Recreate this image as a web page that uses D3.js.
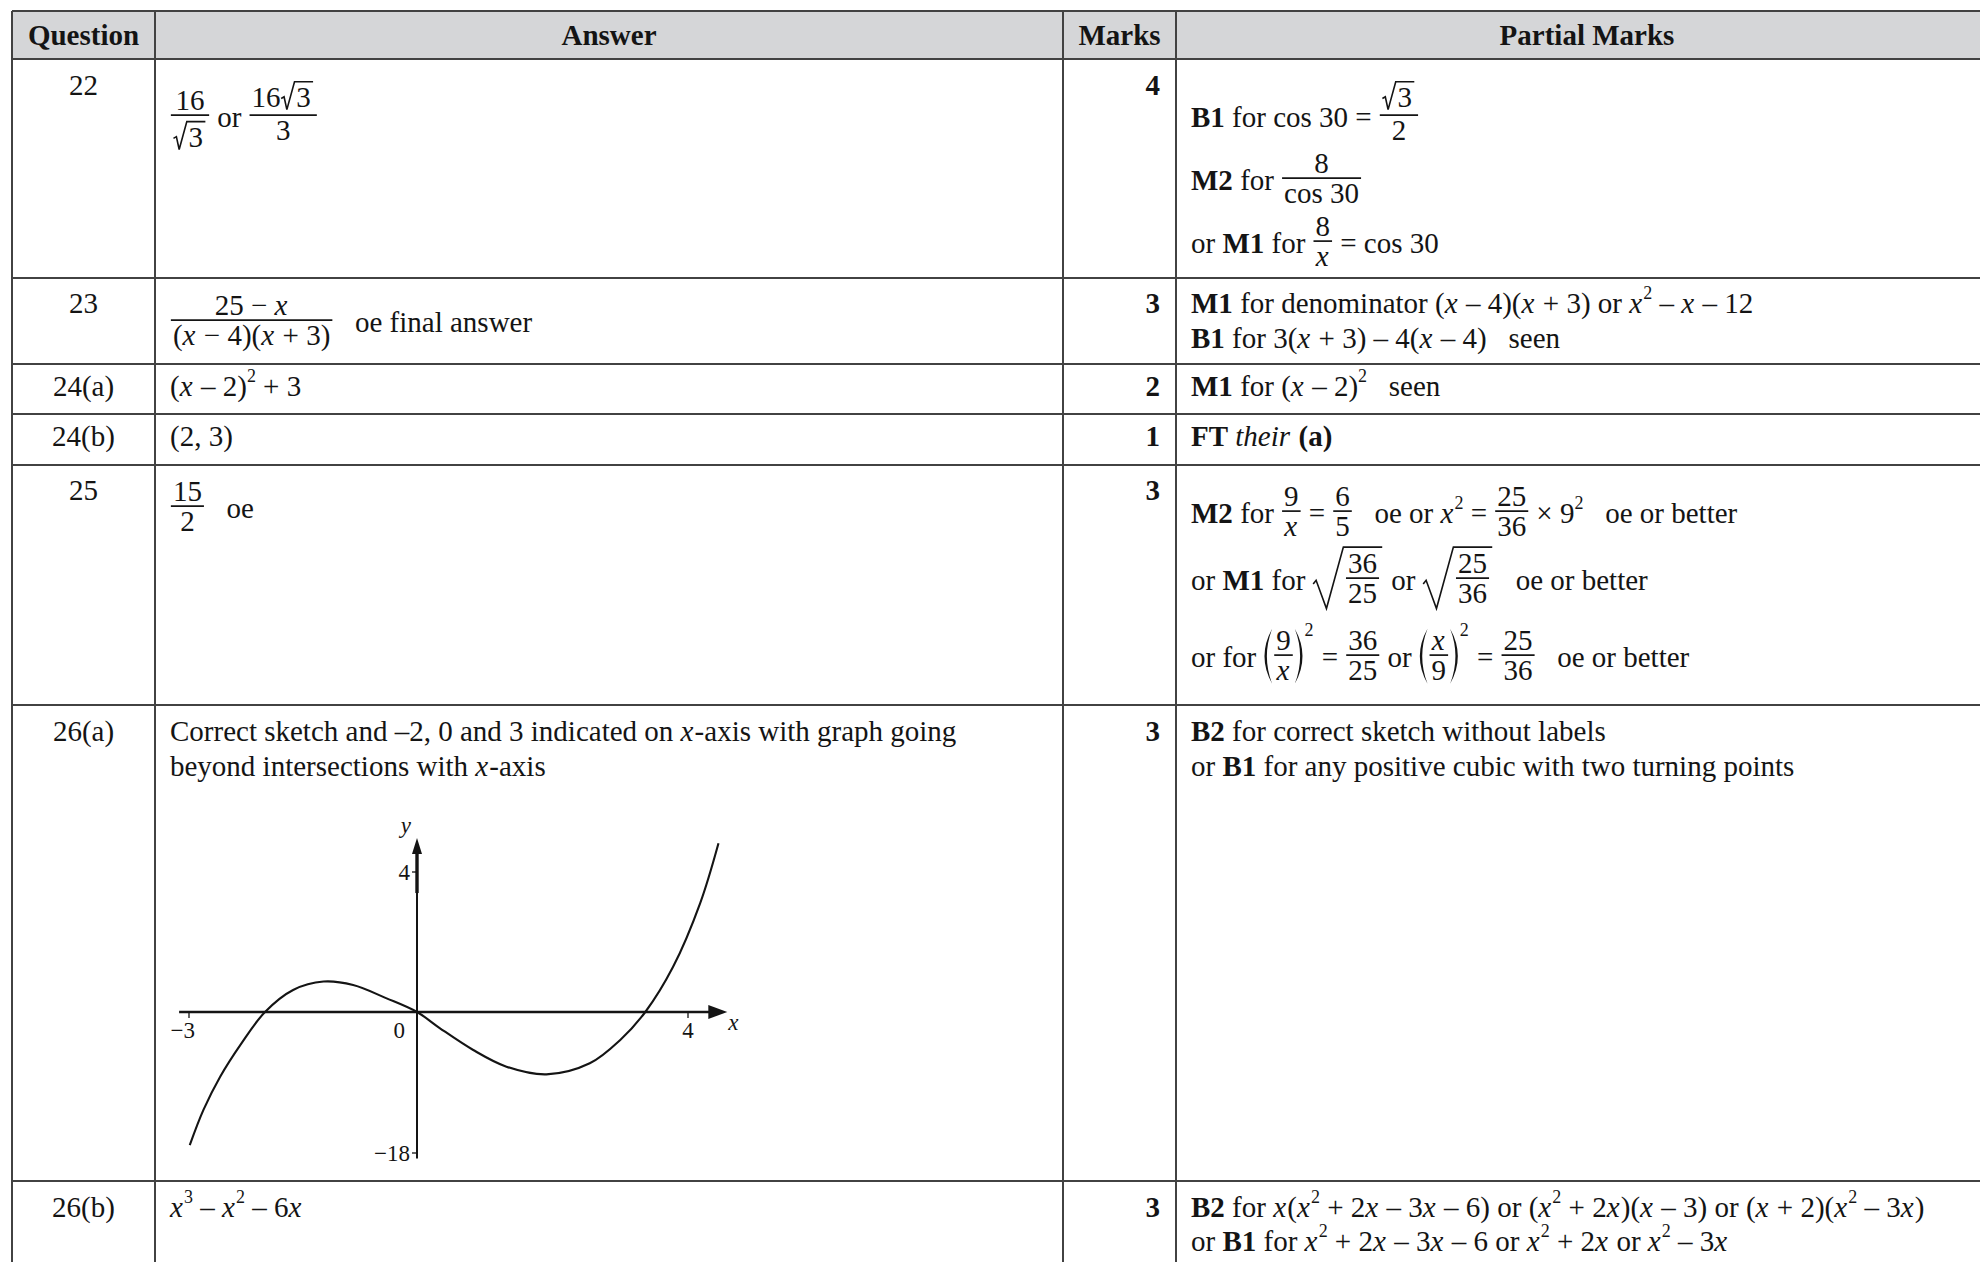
<!DOCTYPE html>
<html>
<head>
<meta charset="utf-8">
<script src="https://cdn.jsdelivr.net/npm/d3@7"></script>
<style>
body { margin: 0; background: #fff; }
text { font-family: "Liberation Serif", "Times New Roman", serif; fill: #141414; white-space: pre; }
</style>
</head>
<body>
<script>
// ---- table content ----
var headers = ["Question", "Answer", "Marks", "Partial Marks"];
var questions = ["22", "23", "24(a)", "24(b)", "25", "26(a)", "26(b)"];
var marks = ["4", "3", "2", "1", "3", "3", "3"];

var answers = [
  [[{frac: ["16", [{sqrt: ["3"]}]]}, " or ", {frac: [["16", {sqrt: ["3"]}], "3"]}]],
  [[{frac: ["25 − _x_", "(_x_ − 4)(_x_ + 3)"]}, "   oe final answer"]],
  [["(_x_ – 2)^2^ + 3"]],
  [["(2, 3)"]],
  [[{frac: ["15", "2"]}, "   oe"]],
  [["Correct sketch and –2, 0 and 3 indicated on _x_-axis with graph going"],
   ["beyond intersections with _x_-axis"]],
  [["_x_^3^ – _x_^2^ – 6_x_"]]
];

var partials = [
  [["*B1* for cos 30 = ", {frac: [[{sqrt: ["3"]}], "2"]}],
   ["*M2* for ", {frac: ["8", "cos 30"]}],
   ["or *M1* for ", {frac: ["8", "_x_"]}, " = cos 30"]],
  [["*M1* for denominator (_x_ – 4)(_x_ + 3) or _x_^2^ – _x_ – 12"],
   ["*B1* for 3(_x_ + 3) – 4(_x_ – 4)   seen"]],
  [["*M1* for (_x_ – 2)^2^   seen"]],
  [["*FT* _their_ *(a)*"]],
  [["*M2* for ", {frac: ["9", "_x_"]}, " = ", {frac: ["6", "5"]}, "   oe or _x_^2^ = ", {frac: ["25", "36"]}, " × 9^2^   oe or better"],
   ["or *M1* for ", {sqrt: [{frac: ["36", "25"]}]}, " or ", {sqrt: [{frac: ["25", "36"]}]}, "   oe or better"],
   ["or for ", {paren: [{frac: ["9", "_x_"]}], sup: "2"}, " = ", {frac: ["36", "25"]}, " or ",
    {paren: [{frac: ["_x_", "9"]}], sup: "2"}, " = ", {frac: ["25", "36"]}, "   oe or better"]],
  [["*B2* for correct sketch without labels"],
   ["or *B1* for any positive cubic with two turning points"]],
  [["*B2* for _x_(_x_^2^ + 2_x_ – 3_x_ – 6) or (_x_^2^ + 2_x_)(_x_ – 3) or (_x_ + 2)(_x_^2^ – 3_x_)"],
   ["or *B1* for _x_^2^ + 2_x_ – 3_x_ – 6 or _x_^2^ + 2_x_ or _x_^2^ – 3_x_"]]
];

// ---- sketch of the cubic (sketch units) ----
var curveX = [-2.99, -2.81, -2.59, -2.31, -2.0, -1.63, -1.23, -0.84, -0.40, 0, 0.34, 0.83, 1.32, 1.91, 2.55, 3.0, 3.37, 3.78, 4.18, 4.45];
var curveY = [-17.0, -12.5, -8.26, -4.0, 0, 0.63, 0.87, 0.77, 0.39, 0, -2.08, -4.85, -6.98, -7.96, -6.55, -3.57, 0, 1.29, 3.11, 4.82];
var xTicks = [-3, 4];
var yTicks = [4, -18];
var xAxisRange = [-3.13, 4.58];
var yAxisRange = [-18.7, 4.97];

// ---- layout ----
var W = 1980, H = 1262;
var FS = 29;
var colX = [12, 155, 1063, 1176, 1998];
var rowY = [11, 59, 278, 364, 414, 465, 705, 1181, 1300];
var headBase = 45;
var qBase = [95, 313, 396, 446, 500, 741, 1217];
var answerY = [[127], [332], [396], [446], [518], [741, 776], [1217]];
var partialY = [[127, 190, 253], [313, 348], [396], [446], [523, 590, 667], [741, 776], [1217, 1251]];
var ink = "#141414";

var svg = d3.select("body").append("svg")
  .attr("width", W)
  .attr("height", H);

// header background
svg.append("rect")
  .attr("x", colX[0]).attr("y", rowY[0])
  .attr("width", colX[4] - colX[0]).attr("height", rowY[1] - rowY[0])
  .attr("fill", "#d5d6d8");

function parseRuns(str) {
  return str.split(/(\*[^*]+\*|_[^_]+_|\^[^^]+\^)/).filter(function(p) { return p.length; })
    .map(function(p) {
      if (p.length > 2 && p[0] == "*" && p[p.length - 1] == "*") return {t: p.slice(1, -1), b: true};
      if (p.length > 2 && p[0] == "_" && p[p.length - 1] == "_") return {t: p.slice(1, -1), i: true};
      if (p.length > 2 && p[0] == "^" && p[p.length - 1] == "^") return {t: p.slice(1, -1), sup: true};
      return {t: p};
    });
}

function drawText(g, str, x0, size) {
  var x = x0, top = -0.68 * size;
  parseRuns(str).forEach(function(r) {
    var fs = r.sup ? size * 0.62 : size;
    var y = r.sup ? -0.5 * size : 0;
    var t = g.append("text")
      .attr("x", x).attr("y", y)
      .attr("font-size", fs)
      .attr("xml:space", "preserve")
      .attr("font-weight", r.b ? "bold" : null)
      .attr("font-style", r.i ? "italic" : null)
      .text(r.t);
    x += t.node().getComputedTextLength() + (r.i ? 0.04 * size : 0);
    if (r.sup) top = Math.min(top, y - 0.68 * fs);
  });
  return {w: x - x0, top: top, bot: 0};
}

function drawFrac(g, it, x, size) {
  var gn = g.append("g"), gd = g.append("g");
  var mn = layout(gn, it.frac[0], size), md = layout(gd, it.frac[1], size);
  var pad = 0.1 * size;
  var w = Math.max(mn.w, md.w) + 2 * pad;
  var bar = -0.41 * size;
  var gap = 0.19 * size;
  var nb = bar - gap - mn.bot;
  var db = bar + gap - md.top;
  gn.attr("transform", "translate(" + (x + (w - mn.w) / 2) + "," + nb + ")");
  gd.attr("transform", "translate(" + (x + (w - md.w) / 2) + "," + db + ")");
  g.append("line")
    .attr("x1", x + pad * 0.3).attr("x2", x + w - pad * 0.3)
    .attr("y1", bar).attr("y2", bar)
    .attr("stroke", ink).attr("stroke-width", 1.7);
  return {w: w, top: nb + mn.top, bot: db + md.bot + 0.1 * size};
}

function drawSqrt(g, it, x, size) {
  var gc = g.append("g");
  var m = layout(gc, it.sqrt, size);
  var yt = m.top - 0.2 * size, yb = m.bot + 0.08 * size;
  var h = yb - yt;
  var rw = 0.5 * h;
  gc.attr("transform", "translate(" + (x + rw + 0.06 * size) + ",0)");
  var pts = [[x + 0.02 * size, yb - 0.4 * h], [x + 0.12 * size, yb - 0.46 * h],
             [x + rw * 0.45, yb], [x + rw, yt], [x + rw + 0.14 * size + m.w, yt]];
  g.append("path")
    .attr("d", d3.line()(pts))
    .attr("fill", "none").attr("stroke", ink)
    .attr("stroke-width", 1.6).attr("stroke-linejoin", "miter");
  return {w: rw + 0.2 * size + m.w, top: yt - 1, bot: yb};
}

function parenPath(x0, x1, t, b, th) {
  // x0: outer (bulge) side, x1: tip side
  var mid = (t + b) / 2;
  var dir = x1 > x0 ? 1 : -1;
  var c = x0 - dir * (Math.abs(x1 - x0) * 0.9);
  return "M" + x1 + "," + t + "Q" + c + "," + mid + " " + x1 + "," + b +
         "Q" + (c + dir * th * 2) + "," + mid + " " + x1 + "," + t + "Z";
}

function drawParen(g, it, x, size) {
  var gc = g.append("g");
  var m = layout(gc, it.paren, size);
  var t = m.top - 0.04 * size, b = m.bot + 0.02 * size;
  var pw = 0.3 * size;
  gc.attr("transform", "translate(" + (x + pw + 0.04 * size) + ",0)");
  g.append("path").attr("d", parenPath(x + 0.02 * size, x + pw, t, b, 2.4)).attr("fill", ink);
  var xr = x + pw + 0.08 * size + m.w;
  g.append("path").attr("d", parenPath(xr + pw - 0.02 * size, xr, t, b, 2.4)).attr("fill", ink);
  var w = xr + pw - x;
  if (it.sup) {
    var s = g.append("text")
      .attr("x", x + w + 1).attr("y", t + 0.25 * size)
      .attr("font-size", size * 0.62).text(it.sup);
    w += s.node().getComputedTextLength() + 2;
  }
  return {w: w, top: t, bot: b};
}

function layout(g, items, size) {
  if (typeof items == "string") items = [items];
  var x = 0, top = 0, bot = 0;
  items.forEach(function(it) {
    var m;
    if (typeof it == "string") m = drawText(g, it, x, size);
    else if (it.frac) m = drawFrac(g, it, x, size);
    else if (it.sqrt) m = drawSqrt(g, it, x, size);
    else m = drawParen(g, it, x, size);
    x += m.w;
    top = Math.min(top, m.top);
    bot = Math.max(bot, m.bot);
  });
  return {w: x, top: top, bot: bot};
}

function placeLine(items, x, y) {
  var g = svg.append("g").attr("transform", "translate(" + x + "," + y + ")");
  return layout(g, items, FS);
}

// header texts
headers.forEach(function(h, i) {
  svg.append("text")
    .attr("x", (colX[i] + colX[i + 1]) / 2)
    .attr("y", headBase)
    .attr("text-anchor", "middle")
    .attr("font-size", FS)
    .attr("font-weight", "bold")
    .text(h);
});

// rows
questions.forEach(function(q, i) {
  svg.append("text")
    .attr("x", (colX[0] + colX[1]) / 2)
    .attr("y", qBase[i])
    .attr("text-anchor", "middle")
    .attr("font-size", FS)
    .text(q);
  svg.append("text")
    .attr("x", colX[3] - 16)
    .attr("y", qBase[i])
    .attr("text-anchor", "end")
    .attr("font-size", FS)
    .attr("font-weight", "bold")
    .text(marks[i]);
  answers[i].forEach(function(line, j) {
    placeLine(line, colX[1] + 15, answerY[i][j]);
  });
  partials[i].forEach(function(line, j) {
    placeLine(line, colX[3] + 15, partialY[i][j]);
  });
});

// grid lines
var grid = svg.append("g").attr("stroke", "#424242").attr("stroke-width", 2);
rowY.slice(0, 8).forEach(function(y) {
  grid.append("line").attr("x1", colX[0]).attr("x2", W).attr("y1", y).attr("y2", y);
});
colX.slice(0, 4).forEach(function(x) {
  grid.append("line").attr("x1", x).attr("x2", x).attr("y1", rowY[0]).attr("y2", H);
});

// ---- cubic sketch ----
var xS = d3.scaleLinear().domain([-3, 0, 4]).range([189, 417, 688]);
var yS = d3.scaleLinear().domain([-18, 0, 4]).range([1153, 1012, 872]);
var sk = svg.append("g");
var lab = 23;

// x axis with arrow
sk.append("line")
  .attr("x1", xS(xAxisRange[0])).attr("x2", xS(xAxisRange[1]) - 10)
  .attr("y1", yS(0)).attr("y2", yS(0))
  .attr("stroke", ink).attr("stroke-width", 2.6);
sk.append("path")
  .attr("d", d3.line()([[xS(xAxisRange[1]), yS(0)], [xS(xAxisRange[1]) - 19, yS(0) - 7], [xS(xAxisRange[1]) - 19, yS(0) + 7]]) + "Z")
  .attr("fill", ink);

// y axis with arrow
sk.append("line")
  .attr("x1", xS(0)).attr("x2", xS(0))
  .attr("y1", yS(yAxisRange[0])).attr("y2", yS(yAxisRange[1]) + 12)
  .attr("stroke", ink).attr("stroke-width", 2);
sk.append("line")
  .attr("x1", xS(0)).attr("x2", xS(0))
  .attr("y1", yS(yAxisRange[1]) + 55).attr("y2", yS(yAxisRange[1]) + 12)
  .attr("stroke", ink).attr("stroke-width", 3.4);
sk.append("path")
  .attr("d", d3.line()([[xS(0), yS(yAxisRange[1])], [xS(0) - 5, yS(yAxisRange[1]) + 16], [xS(0) + 5, yS(yAxisRange[1]) + 16]]) + "Z")
  .attr("fill", ink);

// ticks
xTicks.forEach(function(t) {
  sk.append("line")
    .attr("x1", xS(t)).attr("x2", xS(t))
    .attr("y1", yS(0)).attr("y2", yS(0) + 6)
    .attr("stroke", ink).attr("stroke-width", 1.3);
  sk.append("text")
    .attr("x", t < 0 ? xS(t) + 6 : xS(t))
    .attr("y", yS(0) + 26)
    .attr("text-anchor", t < 0 ? "end" : "middle")
    .attr("font-size", lab)
    .text(t < 0 ? "−" + Math.abs(t) : t);
});
sk.append("text")
  .attr("x", xS(0) - 12).attr("y", yS(0) + 26)
  .attr("text-anchor", "end").attr("font-size", lab).text("0");
yTicks.forEach(function(t) {
  sk.append("line")
    .attr("x1", xS(0) - 5).attr("x2", xS(0))
    .attr("y1", yS(t)).attr("y2", yS(t))
    .attr("stroke", ink).attr("stroke-width", 1.3);
  sk.append("text")
    .attr("x", xS(0) - 7)
    .attr("y", yS(t) + 8)
    .attr("text-anchor", "end")
    .attr("font-size", lab)
    .text(t < 0 ? "−" + Math.abs(t) : t);
});
sk.append("text")
  .attr("x", xS(xAxisRange[1]) + 1).attr("y", yS(0) + 18)
  .attr("font-size", lab).attr("font-style", "italic").text("x");
sk.append("text")
  .attr("x", xS(0) - 6).attr("y", yS(yAxisRange[1]) - 5)
  .attr("text-anchor", "end")
  .attr("font-size", lab).attr("font-style", "italic").text("y");

// the curve
var curve = d3.line()
  .x(function(d) { return xS(d[0]); })
  .y(function(d) { return yS(d[1]); })
  .curve(d3.curveCatmullRom.alpha(0.5));
sk.append("path")
  .datum(d3.zip(curveX, curveY))
  .attr("d", curve)
  .attr("fill", "none")
  .attr("stroke", ink)
  .attr("stroke-width", 2.1);
</script>
</body>
</html>
